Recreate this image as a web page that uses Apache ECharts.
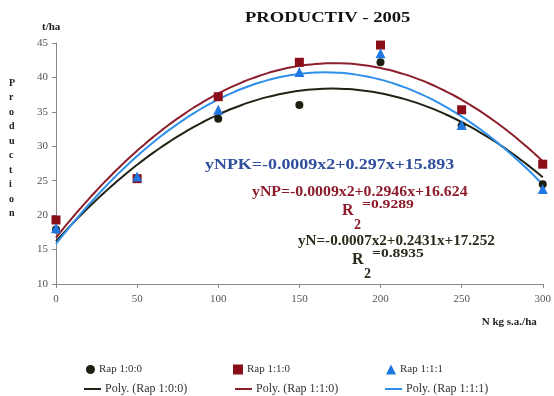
<!DOCTYPE html>
<html>
<head>
<meta charset="utf-8">
<script src="https://cdn.jsdelivr.net/npm/echarts@6/dist/echarts.min.js"></script>
<style>
  html, body { margin: 0; padding: 0; background: #fff; }
  #fig_productiv { width: 554px; height: 396px; }
</style>
</head>
<body>
<div id="fig_productiv"></div>
<script>
// N dose, kg s.a./ha
var doses = [0, 50, 100, 150, 200, 250, 300];
var xTicks = [0, 50, 100, 150, 200, 250, 300];

// production, t/ha
var rap100 = [17.9, 25.3, 34.0, 36.0, 42.2, 33.0, 24.5];
var rap110 = [19.3, 25.3, 37.2, 42.2, 44.7, 35.3, 27.4];
var rap111 = [18.1, 25.6, 35.3, 40.8, 43.5, 33.1, 23.8];

var names = ['Rap 1:0:0', 'Rap 1:1:0', 'Rap 1:1:1'];
var polyNames = ['Poly. (Rap 1:0:0)', 'Poly. (Rap 1:1:0)', 'Poly. (Rap 1:1:1)'];

var serif = '"Liberation Serif", "DejaVu Serif", serif';

// least squares, 2nd order (same as the excel trendline)
function polyFit2(xs, ys) {
    var n = xs.length, s = [0, 0, 0, 0, 0], t = [0, 0, 0];
    for (var i = 0; i < n; i++) {
        var p = 1;
        for (var k = 0; k < 5; k++) {
            s[k] += p;
            if (k < 3) t[k] += p * ys[i];
            p *= xs[i];
        }
    }
    var m = [[s[0], s[1], s[2], t[0]], [s[1], s[2], s[3], t[1]], [s[2], s[3], s[4], t[2]]];
    for (var c = 0; c < 3; c++) {
        for (var r = c + 1; r < 3; r++) {
            var f = m[r][c] / m[c][c];
            for (var j = c; j < 4; j++) m[r][j] -= f * m[c][j];
        }
    }
    var a = [0, 0, 0];
    for (var r2 = 2; r2 >= 0; r2--) {
        var v = m[r2][3];
        for (var j2 = r2 + 1; j2 < 3; j2++) v -= m[r2][j2] * a[j2];
        a[r2] = v / m[r2][r2];
    }
    return a; // c0 + c1 x + c2 x^2
}

function trend(ys) {
    var a = polyFit2(doses, ys);
    var out = [];
    for (var x = 0; x <= 300; x += 5) {
        out.push([x, a[0] + a[1] * x + a[2] * x * x]);
    }
    return out;
}

var markColors = ['#1c1f10', '#8a0e18', '#1f78e2'];
var lineColors = ['#1f2415', '#8c1f2c', '#2e90ea'];
var shapes = ['circle', 'rect', 'triangle'];
var sizes = [8, 9, 10];
var values = [rap100, rap110, rap111];

var series = [];
for (let i = 0; i < 3; i++) {
    series.push({
        name: polyNames[i],
        type: 'line',
        data: trend(values[i]),
        smooth: true,
        showSymbol: false,
        symbol: 'none',
        lineStyle: { color: lineColors[i], width: 2 },
        itemStyle: { color: lineColors[i] },
        z: 2
    });
}
for (let i = 0; i < 3; i++) {
    series.push({
        name: names[i],
        type: 'scatter',
        data: doses.map(function(d, j) { return [d, values[i][j]]; }),
        symbol: shapes[i],
        symbolSize: sizes[i],
        itemStyle: { color: markColors[i], opacity: 1 },
        z: 3 + i
    });
}

function legendItem(name, left, top, icon, w, h, fs) {
    return {
        data: [{ name: name, icon: icon }],
        left: left,
        top: top,
        itemWidth: w,
        itemHeight: h,
        itemGap: 4,
        selectedMode: false,
        textStyle: { fontFamily: serif, fontSize: fs, color: '#333', padding: [0, 0, 0, -1] }
    };
}

var legends = [
    legendItem(names[0], 81, 359, 'circle', 9, 9, 11),
    legendItem(names[1], 228, 359, 'rect', 10, 10, 11),
    legendItem(names[2], 381, 359, 'triangle', 10, 10, 11),
    legendItem(polyNames[0], 79, 378, 'rect', 17, 2, 12),
    legendItem(polyNames[1], 230, 378, 'rect', 17, 2, 12),
    legendItem(polyNames[2], 380, 378, 'rect', 17, 2, 12)
];

// text placed by its left edge / vertical middle, stretched like the original
function txt(s, x, y, color, size, sx) {
    return {
        type: 'text',
        x: x,
        y: y,
        scaleX: sx || 1,
        style: {
            text: s, fill: color, font: 'bold ' + size + 'px ' + serif,
            verticalAlign: 'middle', align: 'left'
        }
    };
}

var prodLetters = 'Production'.split('').join('\n');

var option = {
    backgroundColor: '#fff',
    animation: false,
    legend: legends,
    grid: { left: 56, right: 7, top: 43, bottom: 112 },
    xAxis: {
        type: 'value',
        min: 0,
        max: 300,
        interval: 50,
        name: 'N kg s.a./ha',
        nameLocation: 'end',
        nameGap: 0,
        nameTextStyle: {
            fontFamily: serif, fontSize: 11, fontWeight: 'bold', color: '#222',
            align: 'right', verticalAlign: 'top', padding: [33, 6, 0, 0]
        },
        splitLine: { show: false },
        axisLine: { lineStyle: { color: '#888' } },
        axisTick: { length: 4, lineStyle: { color: '#888' } },
        axisLabel: {
            fontFamily: serif, fontSize: 11, color: '#555', margin: 10,
            customValues: xTicks
        }
    },
    yAxis: {
        type: 'value',
        min: 10,
        max: 45,
        interval: 5,
        splitLine: { show: false },
        axisLine: { show: true, lineStyle: { color: '#888' } },
        axisTick: { show: true, length: 4, inside: false, lineStyle: { color: '#888' } },
        axisLabel: { fontFamily: serif, fontSize: 11, color: '#555', margin: 8 }
    },
    graphic: [
        txt('PRODUCTIV - 2005', 245, 18, '#111', 15, 1.24),
        txt('t/ha', 42, 27, '#222', 11),
        {
            type: 'text',
            left: 9,
            top: 76,
            style: {
                text: prodLetters, fill: '#222', font: 'bold 10px ' + serif,
                lineHeight: 14.5, align: 'center'
            }
        },
        txt('yNPK=-0.0009x2+0.297x+15.893', 205, 165, '#2f4e9c', 14, 1.28),
        txt('yNP=-0.0009x2+0.2946x+16.624', 252, 192, '#8c1c2c', 14, 1.13),
        txt('R', 342, 211, '#8c1c2c', 16),
        txt('2', 354, 225, '#8c1c2c', 14),
        txt('=0.9289', 362, 205, '#8c1c2c', 13, 1.2),
        txt('yN=-0.0007x2+0.2431x+17.252', 298, 241, '#2a2a1a', 14, 1.08),
        txt('R', 352, 260, '#2a2a1a', 16),
        txt('2', 364, 274, '#2a2a1a', 14),
        txt('=0.8935', 372, 254, '#2a2a1a', 13, 1.2)
    ],
    series: series
};

var chart = echarts.init(document.getElementById('fig_productiv'));
chart.setOption(option);
</script>
</body>
</html>
